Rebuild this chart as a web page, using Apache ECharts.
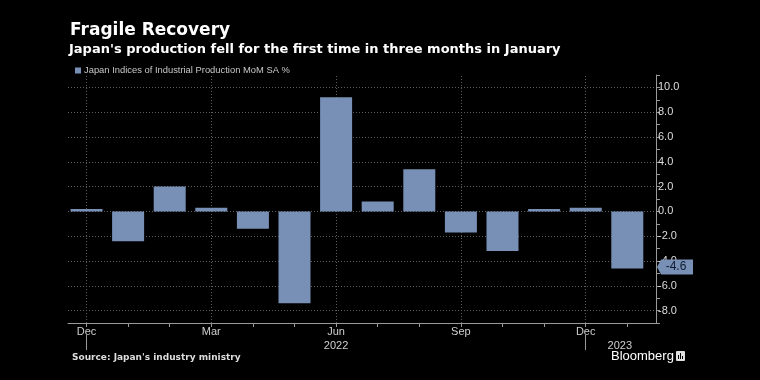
<!DOCTYPE html>
<html>
<head>
<meta charset="utf-8">
<script src="https://cdn.jsdelivr.net/npm/echarts@6/dist/echarts.min.js"></script>
<style>
html,body{margin:0;padding:0;background:#000;}
#c{width:760px;height:380px;}
</style>
</head>
<body>
<div id="c"></div>
<script>
// ---- data ----
const months = ['Dec','Jan','Feb','Mar','Apr','May','Jun','Jul','Aug','Sep','Oct','Nov','Dec','Jan'];
const values = [0.2, -2.4, 2.0, 0.3, -1.4, -7.4, 9.2, 0.8, 3.4, -1.7, -3.2, 0.2, 0.3, -4.6];
const monthLabelIdx = [0, 3, 6, 9, 12];
const yearLabels = ['2022', '2023'];
const yearLabelPos = [6, 12.82];
const yearSepIdx = [0, 12];
const yGridValues = [-8, -6, -4, -2, 0, 2, 4, 6, 8, 10];
const seriesName = 'Japan Indices of Industrial Production MoM SA %';
const lastValue = values[values.length - 1];

const BAR = '#7890b6';
const FONT = 'DejaVu Sans';
const LFONT = 'Liberation Sans';
const AXIS = '#9a9a9a';

const chart = echarts.init(document.getElementById('c'), null, {renderer: 'canvas'});
const allIdx = months.map((m, i) => i);

const option = {
  backgroundColor: '#000',
  animation: false,
  title: [
    {text: 'Fragile Recovery', left: 70, top: 22, padding: 0,
     textStyle: {color: '#fff', fontSize: 17, fontWeight: 'bold', fontFamily: FONT}},
    {text: "Japan's production fell for the first time in three months in January", left: 69, top: 43, padding: 0,
     textStyle: {color: '#fff', fontSize: 13, fontWeight: 'bold', fontFamily: FONT}},
    {text: "Source: Japan's industry ministry", left: 72, top: 353, padding: 0,
     textStyle: {color: '#ddd', fontSize: 9, fontWeight: 'bold', fontFamily: FONT}},
    {text: 'Bloomberg', left: 611, top: 350, padding: 0,
     textStyle: {color: '#fff', fontSize: 13, fontWeight: 'normal', fontFamily: LFONT}}
  ],
  legend: {
    left: 70, top: 61,
    icon: 'rect', itemWidth: 6, itemHeight: 6, itemGap: 4,
    textStyle: {color: '#c8c8c8', fontSize: 9.4, fontFamily: LFONT, padding: [0,0,0,-2]},
    data: [seriesName]
  },
  grid: {left: 68, right: 104, top: 75, bottom: 57, containLabel: false},
  xAxis: [
    {
      type: 'value', min: -0.445, max: 13.69,
      axisLine: {show: true, onZero: false, lineStyle: {color: AXIS, width: 1}},
      axisTick: {show: true, length: 4, customValues: allIdx, lineStyle: {color: AXIS}},
      axisLabel: {show: true, customValues: monthLabelIdx, color: '#cfcfcf', fontSize: 11,
                  fontFamily: LFONT, margin: 3,
                  formatter: v => months[Math.round(v)]},
      splitLine: {show: false}
    },
    {
      type: 'value', min: -0.445, max: 13.69, position: 'bottom', offset: 12,
      axisLine: {show: false, onZero: false},
      axisTick: {show: true, length: 15, customValues: yearSepIdx, lineStyle: {color: AXIS}},
      axisLabel: {show: true, customValues: yearLabelPos, color: '#cfcfcf', fontSize: 11,
                  fontFamily: LFONT, margin: 5,
                  formatter: v => yearLabels[yearLabelPos.indexOf(v)]},
      splitLine: {show: false}
    }
  ],
  yAxis: {
    type: 'value', position: 'right', min: -9, max: 11, interval: 1,
    axisLine: {show: true, onZero: false, lineStyle: {color: AXIS, width: 1}},
    axisTick: {show: true, length: 4, inside: false, lineStyle: {color: AXIS}},
    axisLabel: {color: '#dcdcdc', fontSize: 11, fontFamily: LFONT, margin: 2,
                formatter: v => (Math.round(v) % 2 === 0 ? v.toFixed(1) : '')},
    splitLine: {show: false}
  },
  series: [
    {
      name: 'grid', type: 'line', data: [], z: 0, silent: true,
      markLine: {
        silent: true, symbol: 'none', z: 0, animation: false,
        label: {show: false},
        lineStyle: {color: '#5e5e5e', type: [1, 2], width: 1},
        data: yGridValues.map(v => ({yAxis: v})).concat(monthLabelIdx.map(i => ({xAxis: i})))
      }
    },
    {
      name: seriesName, type: 'bar', z: 3,
      barWidth: 32,
      itemStyle: {color: BAR},
      data: values.map((v, i) => [i, v]),
      markPoint: {
        silent: true, animation: false,
        symbol: 'path://M0,7.5 L4,0 L36,0 L36,15 L4,15 Z',
        symbolSize: [36, 15],
        symbolKeepAspect: false,
        itemStyle: {color: BAR},
        label: {show: true, color: '#0f1a30', fontSize: 12, fontFamily: LFONT,
                offset: [1, 0], formatter: () => lastValue.toFixed(1)},
        data: [{coord: [13.69, lastValue], symbolOffset: [19, -1.5]}]
      }
    }
  ],
  graphic: [
    {type: 'rect', left: 676, top: 351, shape: {width: 9, height: 10, r: 1}, style: {fill: '#e0e0e0'}},
    {type: 'rect', left: 678, top: 355, shape: {width: 1, height: 4}, style: {fill: '#000'}},
    {type: 'rect', left: 680, top: 353, shape: {width: 1, height: 6}, style: {fill: '#000'}},
    {type: 'rect', left: 682, top: 356, shape: {width: 1, height: 3}, style: {fill: '#000'}}
  ]
};
chart.setOption(option);
</script>
</body>
</html>
